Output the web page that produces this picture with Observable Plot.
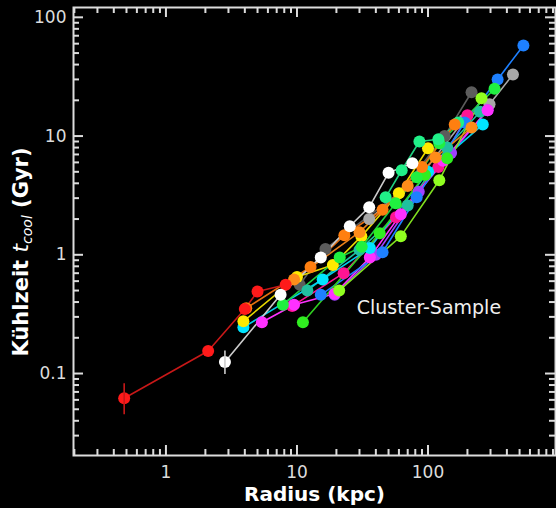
<!DOCTYPE html>
<html><head><meta charset="utf-8">
<script src="https://cdn.jsdelivr.net/npm/d3@7"></script>
<script src="https://cdn.jsdelivr.net/npm/@observablehq/plot@0.6"></script>
<style>
html,body{margin:0;padding:0;background:#000;}
#chart{width:556px;height:508px;overflow:hidden;}
</style></head><body><div id="chart"></div>
<script>
// ---- data: radius (kpc), cooling time (Gyr) per cluster ----
const darkGray  = [[10.5,0.56],[16.5,1.12],[60,3.3],[134,10],[215,23.4]];
const lightGray = [[35.6,2.0],[90,4.8],[190,13.8],[295,18.5],[445,33]];
const purple    = [[19.4,0.46],[40,1.0],[85,3.4],[150,7.2],[285,16.5]];
const teal      = [[12,0.5],[30,1.1],[70,2.6],[140,8],[250,16]];
const hotPink   = [[9.2,0.37],[22.7,0.7],[57,2.07],[120,5.5],[200,15]];
const magenta   = [[5.4,0.27],[9.5,0.38],[19.4,0.47],[36,0.95],[62,2.2],[130,6.2],[285,16.5]];
const blue      = [[15.2,0.46],[45,1.05],[82,3.05],[190,13],[340,30],[535,58]];
const cyan      = [[3.9,0.245],[15.7,0.62],[36,1.14],[100,5],[262,12.5]];
const yellow    = [[3.9,0.275],[10,0.65],[18.8,0.82],[31,1.43],[60,3.3],[100,7.9]];
const lime      = [[21,0.5],[62,1.43],[122,4.25],[256,20.8]];
const green     = [[11.1,0.27],[42.8,1.52],[95,4.7],[140,6.5]];
const green2    = [[7.8,0.38],[21.2,0.95],[31.2,1.17],[56.6,2.72],[82,4.5],[122,8.7],[322,25]];
const mint      = [[47.5,3.05],[63,5.15],[86,9.0],[120,9.4],[170,13]];
const orangeB   = [[9.5,0.62],[30,1.55],[70,3.8],[114,6.6],[215,11.8]];
const orangeA   = [[4.1,0.355],[12.7,0.79],[23,1.46],[45,2.4],[90,5.5],[160,12.5]];
const red       = [[0.48,0.062],[2.1,0.155],[4.0,0.35],[5.0,0.49],[8.2,0.56]];
const white     = [[2.82,0.125],[7.5,0.46],[15.2,0.95],[25.3,1.74],[35.6,2.52],[50,4.9],[76,5.9]];

const seriesData   = [darkGray, lightGray, purple, teal, hotPink, magenta, blue, cyan, yellow, lime, green, green2, mint, orangeB, orangeA, red, white];
const seriesColors = ["#5c5c5c","#a8a8a8","#a040ff","#20c0a0","#ff1493","#ff30ff","#1e80ff","#00e5ff","#ffea00","#90ff20","#30ee20","#20f040","#20f088","#ff8c1a","#ff7f10","#ff1a1a","#ffffff"];
const lineColors   = ["#5c5c5c","#a8a8a8","#a040ff","#20c0a0","#ff1493","#ff30ff","#1e80ff","#00d0ee","#e8d800","#80e020","#30d020","#20d040","#20d080","#e8801a","#e87010","#c81818","#cccccc"];

// error bars: radius, low, high
const redErr   = [[0.48,0.045,0.082]];
const whiteErr = [[2.82,0.098,0.155]];

// axis ticks
const xMajor = [1,10,100];
const xMinor = [0.2,0.3,0.4,0.5,0.6,0.7,0.8,0.9,2,3,4,5,6,7,8,9,20,30,40,50,60,70,80,90,200,300,400,500,600,700,800,900];
const yMajor = [0.1,1,10,100];
const yMinor = [0.03,0.04,0.05,0.06,0.07,0.08,0.09,0.2,0.3,0.4,0.5,0.6,0.7,0.8,0.9,2,3,4,5,6,7,8,9,20,30,40,50,60,70,80,90];

const xTitle = "Radius (kpc)";
const annotation = ["Cluster-Sample"];
const annotR = 28.6, annotT = 0.36;

const W = 556, H = 508, mL = 73, mR = 1, mT = 7, mB = 53;
const plotW = W - mL - mR, plotH = H - mT - mB;
const axisColor = "#dcdcdc";
const marks = [];

seriesData.forEach((pts, i) => {
  marks.push(Plot.line(pts, {x: d => d[0], y: d => d[1], stroke: lineColors[i], strokeWidth: 1.6}));
});
seriesData.forEach((pts, i) => {
  marks.push(Plot.dot(pts, {x: d => d[0], y: d => d[1], r: 6, fill: seriesColors[i], stroke: "none"}));
});
marks.push(Plot.ruleX(redErr, {x: d => d[0], y1: d => d[1], y2: d => d[2], stroke: "#c81818", strokeWidth: 1.6}));
marks.push(Plot.ruleX(whiteErr, {x: d => d[0], y1: d => d[1], y2: d => d[2], stroke: "#cccccc", strokeWidth: 1.6}));

// frame + inward ticks on all sides (rules inset to tick length)
marks.push(Plot.frame({stroke: axisColor, strokeWidth: 2}));
for (const [vals, len] of [[xMajor, 10], [xMinor, 6]]) {
  marks.push(Plot.ruleX(vals, {x: d => d, insetTop: plotH - len, stroke: axisColor, strokeWidth: 2}));
  marks.push(Plot.ruleX(vals, {x: d => d, insetBottom: plotH - len, stroke: axisColor, strokeWidth: 2}));
}
for (const [vals, len] of [[yMajor, 10], [yMinor, 6]]) {
  marks.push(Plot.ruleY(vals, {y: d => d, insetRight: plotW - len, stroke: axisColor, strokeWidth: 2}));
  marks.push(Plot.ruleY(vals, {y: d => d, insetLeft: plotW - len, stroke: axisColor, strokeWidth: 2}));
}
// tick labels
marks.push(Plot.axisX(xMajor, {anchor: "bottom", tickSize: 0, tickPadding: 10, tickFormat: d => String(d), fill: "#dcdcdc", fontSize: 17, label: null}));
marks.push(Plot.axisY(yMajor, {anchor: "left", tickSize: 0, tickPadding: 7, tickFormat: d => String(d), fill: "#dcdcdc", fontSize: 17, label: null}));

// titles / annotation
marks.push(Plot.text([xTitle], {text: d => d, frameAnchor: "bottom", dy: 45, fill: "#ffffff", fontSize: 20, fontWeight: "bold"}));
marks.push(Plot.text(annotation, {text: d => d, x: () => annotR, y: () => annotT, textAnchor: "start", fill: "#f0f0f0", fontSize: 19}));

const chart = Plot.plot({
  width: W,
  height: H,
  marginLeft: mL,
  marginRight: mR,
  marginTop: mT,
  marginBottom: mB,
  style: {background: "#000", color: "#dcdcdc", fontFamily: "DejaVu Sans, sans-serif", fontSize: "17px"},
  x: {type: "log", domain: [0.197, 940], label: null},
  y: {type: "log", domain: [0.0204, 121], label: null},
  marks
});

// y-axis title with italic subscript
const svg = d3.select(chart);
const yt = svg.append("text")
  .attr("transform", "translate(28,252) rotate(-90)")
  .attr("text-anchor", "middle")
  .attr("fill", "#ffffff")
  .attr("font-family", "DejaVu Sans, sans-serif")
  .attr("font-size", 21);
yt.append("tspan").attr("font-weight", "bold").text("Kühlzeit ");
yt.append("tspan").attr("font-style", "italic").attr("font-size", 22).text("t");
yt.append("tspan").attr("font-style", "italic").attr("font-size", 14).attr("dy", 4).text("cool");
yt.append("tspan").attr("font-weight", "bold").attr("dy", -4).text("\u00a0(Gyr)");

document.getElementById("chart").appendChild(chart);
</script>
</body></html>
